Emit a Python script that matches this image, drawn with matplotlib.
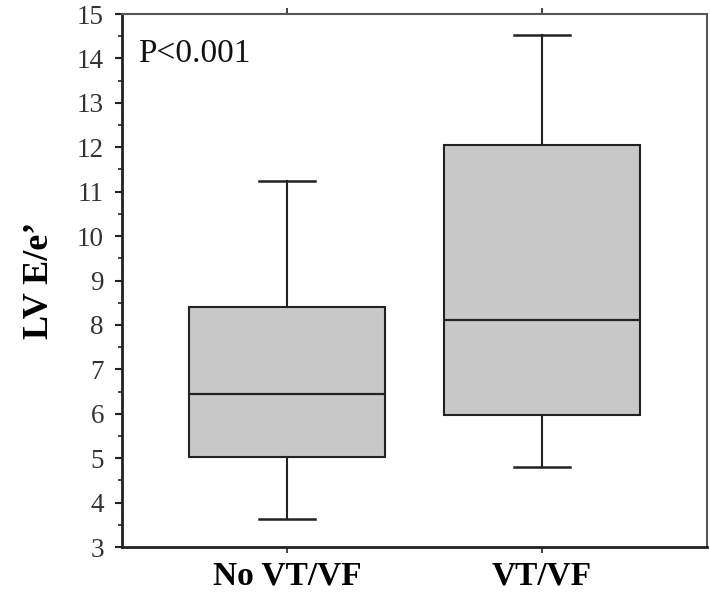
import matplotlib
matplotlib.use("Agg")
import matplotlib.pyplot as plt
from matplotlib.ticker import MultipleLocator

categories = ["No VT/VF", "VT/VF"]
medians = [6.44, 8.12]
q1 = [5.03, 5.97]
q3 = [8.41, 12.05]
whisker_low = [3.62, 4.80]
whisker_high = [11.23, 14.53]
y_label = "LV E/e\u2019"
p_text = "P<0.001"

plt.rcParams['font.family'] = ['Liberation Serif', 'DejaVu Serif']

fig = plt.figure(figsize=(7.1, 5.94), dpi=100)
ax = fig.add_axes([0.1718, 0.0791, 0.8240, 0.8973])

stats = []
for i, c in enumerate(categories):
    stats.append(dict(med=medians[i], q1=q1[i], q3=q3[i],
                      whislo=whisker_low[i], whishi=whisker_high[i],
                      fliers=[], label=c))

ec = '#222222'
ax.bxp(stats, positions=[1, 2], widths=0.77, capwidths=0.22,
       patch_artist=True, showfliers=False,
       boxprops=dict(facecolor='#c8c8c8', edgecolor=ec, linewidth=1.5),
       medianprops=dict(color=ec, linewidth=1.6),
       whiskerprops=dict(color=ec, linewidth=1.5),
       capprops=dict(color=ec, linewidth=1.8))

ax.set_xlim(0.35, 2.65)
ax.set_ylim(3, 15)
ax.yaxis.set_major_locator(MultipleLocator(1))
ax.yaxis.set_minor_locator(MultipleLocator(0.5))
ax.tick_params(axis='y', which='major', direction='out', length=5, width=1.5,
               labelsize=19.5, colors=ec, pad=8)
ax.tick_params(axis='y', which='minor', direction='out', length=3, width=1.2, colors=ec)
ax.tick_params(axis='x', which='major', direction='out', length=4, width=1.2,
               top=True, labelsize=24, colors=ec, pad=6)
for lbl in ax.get_xticklabels():
    lbl.set_fontweight('bold')
    lbl.set_color('black')
for lbl in ax.get_yticklabels():
    lbl.set_color('#333333')

for s in ['left', 'bottom']:
    ax.spines[s].set_linewidth(2.0)
    ax.spines[s].set_color(ec)
for s in ['top', 'right']:
    ax.spines[s].set_linewidth(1.5)
    ax.spines[s].set_color('#555555')

ax.set_ylabel(y_label, fontsize=26, fontweight='bold', labelpad=15)
ax.text(0.027, 0.9096, p_text, transform=ax.transAxes, fontsize=24,
        ha='left', va='baseline', color='#111111')

fig.savefig("out.png", dpi=100)
